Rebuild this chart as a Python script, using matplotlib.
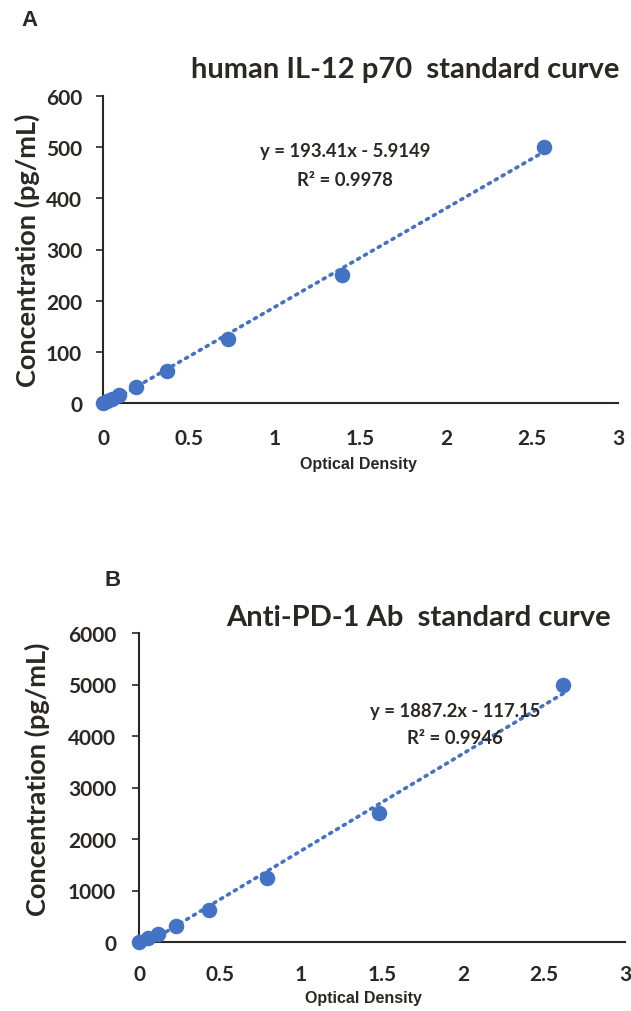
import matplotlib
matplotlib.use("Agg")
import matplotlib.pyplot as plt
import numpy as np

# Panel A data
od_a = [0.0, 0.025, 0.05, 0.095, 0.19, 0.37, 0.73, 1.39, 2.57]
conc_a = [0, 3.9, 7.8, 15.6, 31.25, 62.5, 125, 250, 500]
fit_a = (193.41, -5.9149)
eq_a = ["y = 193.41x - 5.9149", "R² = 0.9978"]
title_a = "human IL-12 p70  standard curve"
yticks_a = [0, 100, 200, 300, 400, 500, 600]

# Panel B data
od_b = [0.0, 0.058, 0.115, 0.23, 0.43, 0.79, 1.48, 2.62]
conc_b = [0, 78, 156, 312.5, 625, 1250, 2500, 5000]
fit_b = (1887.2, -117.15)
eq_b = ["y = 1887.2x - 117.15", "R² = 0.9946"]
title_b = "Anti-PD-1 Ab  standard curve"
yticks_b = [0, 1000, 2000, 3000, 4000, 5000, 6000]

xticks = [0, 0.5, 1, 1.5, 2, 2.5, 3]
xtick_labels = ["0", "0.5", "1", "1.5", "2", "2.5", "3"]

BLUE = "#4472C4"
DARK = "#2b2722"
TFONT = ["Lato", "DejaVu Sans"]
AFONT = ["Liberation Sans", "DejaVu Sans"]

fig = plt.figure(figsize=(6.31, 10.12), dpi=100)
W, H = 631, 1012

def px_axes(x0, y0, x1, y1):
    return fig.add_axes([x0 / W, 1 - y1 / H, (x1 - x0) / W, (y1 - y0) / H])

def draw(ax, od, conc, fit, ymax, yticks, xpad, ypad):
    ax.set_xlim(0, 3)
    ax.set_ylim(0, ymax)
    xs = np.array([min(od), max(od)])
    ax.plot(xs, fit[0] * xs + fit[1], linestyle=(0, (0.6, 1.6)), color=BLUE,
            linewidth=2.6, dash_capstyle="round", zorder=2, clip_on=False)
    ax.scatter(od, conc, s=125, color=BLUE, zorder=3, clip_on=False, linewidths=0)
    for s in ["top", "right"]:
        ax.spines[s].set_visible(False)
    for s in ["left", "bottom"]:
        ax.spines[s].set_color(DARK)
        ax.spines[s].set_linewidth(1.5)
    ax.set_xticks(xticks)
    ax.set_xticklabels(xtick_labels)
    ax.set_yticks(yticks)
    ax.tick_params(axis="x", length=0, pad=xpad, labelsize=15, colors=DARK)
    ax.tick_params(axis="y", length=5, width=1.2, pad=ypad, labelsize=15, colors=DARK)
    for lab in ax.get_xticklabels() + ax.get_yticklabels():
        lab.set_fontfamily(TFONT)
        lab.set_fontweight("bold")
    ax.set_facecolor("none")

# Panel A
ax1 = px_axes(103, 97, 618, 404)
draw(ax1, od_a, conc_a, fit_a, 600, yticks_a, 18, 10)
fig.text(30 / W, 1 - 21 / H, "A", fontsize=16, fontweight="bold", family=AFONT,
         color=DARK, va="center", ha="center")
fig.text(405 / W, 1 - 70 / H, title_a, fontsize=21, fontweight="bold", family=TFONT,
         color=DARK, va="center", ha="center")
fig.text(345 / W, 1 - 152 / H, eq_a[0], fontsize=13.3, fontweight="bold", family=TFONT,
         color=DARK, va="center", ha="center")
fig.text(345 / W, 1 - 180 / H, eq_a[1], fontsize=13.3, fontweight="bold", family=TFONT,
         color=DARK, va="center", ha="center")
fig.text(27 / W, 1 - 250 / H, "Concentration (pg/mL)", fontsize=19.5, fontweight="bold",
         family=TFONT, color=DARK, rotation=90, va="center", ha="center")
fig.text(358 / W, 1 - 465 / H, "Optical Density", fontsize=11.5, fontweight="bold",
         family=AFONT, color=DARK, va="center", ha="center")

# Panel B
ax2 = px_axes(139, 634, 625, 943)
draw(ax2, od_b, conc_b, fit_b, 6000, yticks_b, 16, 11.5)
fig.text(113 / W, 1 - 581 / H, "B", fontsize=16, fontweight="bold", family=AFONT,
         color=DARK, va="center", ha="center")
fig.text(418 / W, 1 - 618 / H, title_b, fontsize=21, fontweight="bold", family=TFONT,
         color=DARK, va="center", ha="center")
fig.text(455 / W, 1 - 711 / H, eq_b[0], fontsize=13.3, fontweight="bold", family=TFONT,
         color=DARK, va="center", ha="center")
fig.text(455 / W, 1 - 738 / H, eq_b[1], fontsize=13.3, fontweight="bold", family=TFONT,
         color=DARK, va="center", ha="center")
fig.text(37 / W, 1 - 779 / H, "Concentration (pg/mL)", fontsize=19.5, fontweight="bold",
         family=TFONT, color=DARK, rotation=90, va="center", ha="center")
fig.text(363 / W, 1 - 999 / H, "Optical Density", fontsize=11.5, fontweight="bold",
         family=AFONT, color=DARK, va="center", ha="center")

fig.savefig("out.png", dpi=100)
